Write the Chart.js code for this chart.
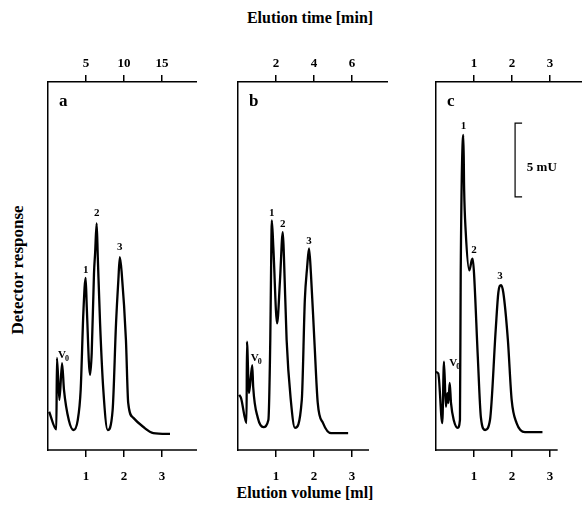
<!DOCTYPE html>
<html>
<head>
<meta charset="utf-8">
<script src="https://cdn.jsdelivr.net/npm/chart.js@4.4.0/dist/chart.umd.min.js"></script>
<style>
body { margin: 0; background: #fff; }
#wrap { position: relative; width: 582px; height: 509px; overflow: hidden; font-family: "Liberation Serif", serif; font-weight: bold; color: #000; }
#wrap canvas { position: absolute; }
.t { position: absolute; white-space: nowrap; font-size: 16px; }
</style>
</head>
<body>
<div id="wrap">
  <div class="t" style="left:0; width:620px; text-align:center; top:9px;">Elution time [min]</div>
  <div class="t" style="left:0; width:610px; text-align:center; top:484px;">Elution volume [ml]</div>
  <div class="t" style="left:18px; top:270px; font-size:17px; transform:translate(-50%,-50%) rotate(-90deg);">Detector response</div>
  <canvas id="chartA" width="153" height="432" style="left:44px; top:50px;"></canvas>
  <canvas id="chartB" width="154" height="432" style="left:234px; top:50px;"></canvas>
  <canvas id="chartC" width="150" height="432" style="left:432px; top:50px;"></canvas>
</div>
<script>
// elution volume [ml] and detector response [mU]
const volA  = [0.03, 0.22, 0.235, 0.30, 0.37, 0.42, 0.55, 0.67, 0.78, 0.86, 0.93, 0.99, 1.02, 1.105, 1.15, 1.21, 1.24, 1.28, 1.31, 1.37, 1.455, 1.57, 1.70, 1.79, 1.85, 1.89, 1.94, 2.05, 2.11, 2.24, 2.51, 2.77, 3.21];
const respA = [2.6, 1.4, 6.25, 3.4, 5.9, 4.1, 2.0, 1.36, 2.0, 4.1, 9.3, 11.7, 9.7, 5.1, 6.6, 12.0, 13.4, 15.4, 13.1, 8.6, 4.1, 1.36, 2.7, 8.6, 11.5, 13.1, 12.0, 7.5, 3.2, 2.2, 1.56, 1.15, 1.09];

const volB  = [0.03, 0.08, 0.225, 0.235, 0.29, 0.375, 0.40, 0.52, 0.67, 0.80, 0.85, 0.87, 0.89, 0.93, 1.03, 1.105, 1.18, 1.21, 1.28, 1.39, 1.50, 1.68, 1.76, 1.82, 1.87, 1.92, 2.01, 2.10, 2.24, 2.45, 2.90];
const respB = [3.74, 3.53, 1.83, 7.36, 3.87, 5.77, 4.28, 2.2, 1.56, 2.04, 7.47, 12.0, 15.6, 13.8, 8.6, 11.5, 14.8, 13.1, 7.5, 3.4, 1.5, 3.4, 10.2, 12.4, 13.7, 12.0, 7.5, 3.2, 1.83, 1.15, 1.15];

const volC  = [0.0, 0.06, 0.165, 0.21, 0.26, 0.30, 0.325, 0.36, 0.395, 0.47, 0.57, 0.63, 0.65, 0.72, 0.74, 0.78, 0.875, 0.94, 0.965, 1.0, 1.10, 1.18, 1.29, 1.42, 1.57, 1.64, 1.71, 1.77, 1.89, 1.99, 2.12, 2.34, 2.80];
const respC = [5.3, 5.2, 1.83, 6.0, 2.94, 3.87, 3.19, 4.55, 3.19, 2.0, 1.5, 2.04, 12.0, 21.4, 17.7, 14.9, 12.2, 12.9, 13.0, 12.0, 6.3, 2.24, 1.36, 2.04, 8.15, 10.7, 11.2, 10.7, 7.5, 3.4, 1.83, 1.22, 1.22];

// axis ticks
const volTicks = [1, 2, 3];
const timeTicksA = [5, 10, 15];
const timeTicksB = [2, 4, 6];
const timeTicksC = [1, 2, 3];

// peak labels: text, volume, response
const peakTextA = ['V0', '1', '2', '3'];
const peakVolA  = [0.37, 0.99, 1.28, 1.89];
const peakRespA = [6.45, 12.2, 16.1, 13.8];
const peakTextB = ['V0', '1', '2', '3'];
const peakVolB  = [0.44, 0.89, 1.18, 1.87];
const peakRespB = [6.25, 16.1, 15.35, 14.2];
const peakTextC = ['V0', '1', '2', '3'];
const peakVolC  = [0.455, 0.72, 1.0, 1.68];
const peakRespC = [5.9, 22.0, 13.6, 11.8];

const FONT = '"Liberation Serif", serif';

const extras = {
    id: 'extras',
    afterDraw(chart, args, o) {
        const ctx = chart.ctx, x = chart.scales.x, y = chart.scales.y, a = chart.chartArea;
        ctx.save();
        ctx.strokeStyle = '#000';
        ctx.fillStyle = '#000';
        ctx.lineWidth = 1.5;
        ctx.beginPath();
        ctx.moveTo(a.left - 0.75, a.bottom);
        ctx.lineTo(x.getPixelForValue(o.bottomEnd), a.bottom);
        ctx.stroke();

        ctx.font = 'bold 17px ' + FONT;
        ctx.textAlign = 'left';
        ctx.textBaseline = 'middle';
        ctx.fillText(o.letter, a.left + 11, a.top + 20);

        ctx.textAlign = 'center';
        o.text.forEach((t, i) => {
            const px = x.getPixelForValue(o.vol[i]), py = y.getPixelForValue(o.resp[i]);
            if (t === 'V0') {
                ctx.font = 'bold 11px ' + FONT;
                ctx.fillText('V', px, py);
                ctx.font = 'bold 8px ' + FONT;
                ctx.fillText('0', px + 5, py + 4);
            } else {
                ctx.font = 'bold 11px ' + FONT;
                ctx.fillText(t, px, py);
            }
        });

        if (o.bar) {
            const bx = x.getPixelForValue(o.bar.vol);
            const b0 = y.getPixelForValue(o.bar.from), b1 = y.getPixelForValue(o.bar.from + o.bar.size);
            ctx.lineWidth = 1.2;
            ctx.beginPath();
            ctx.moveTo(bx + 7, b1); ctx.lineTo(bx, b1); ctx.lineTo(bx, b0); ctx.lineTo(bx + 7, b0);
            ctx.stroke();
            ctx.font = 'bold 13px ' + FONT;
            ctx.textAlign = 'left';
            ctx.fillText(o.bar.size + ' mU', x.getPixelForValue(o.bar.textVol), y.getPixelForValue(o.bar.textResp));
        }
        ctx.restore();
    }
};

function makePanel(id, vol, resp, volMax, bottomEnd, minPerMl, timeTicks, letter, text, pVol, pResp, bar) {
    const tickFont = { family: FONT, size: 13, weight: 'bold' };
    new Chart(document.getElementById(id), {
        type: 'line',
        data: {
            datasets: [{
                data: vol.map((v, i) => ({ x: v, y: resp[i] })),
                borderColor: '#000',
                borderWidth: 2.3,
                pointRadius: 0,
                cubicInterpolationMode: 'monotone',
                fill: false
            }]
        },
        options: {
            responsive: false,
            animation: false,
            events: [],
            layout: { padding: { left: 4, right: 0, top: 0, bottom: 0 } },
            plugins: {
                legend: { display: false },
                tooltip: { enabled: false },
                extras: { bottomEnd, letter, text, vol: pVol, resp: pResp, bar }
            },
            scales: {
                x: {
                    type: 'linear', position: 'bottom', min: 0, max: volMax,
                    afterBuildTicks: s => { s.ticks = volTicks.map(v => ({ value: v })); },
                    afterFit: s => { s.height = 32; },
                    border: { display: false },
                    grid: { drawOnChartArea: false, color: '#000', lineWidth: 1.5, tickLength: 7 },
                    ticks: { color: '#000', font: tickFont, padding: 12, maxRotation: 0 }
                },
                x2: {
                    type: 'linear', position: 'top', min: 0, max: volMax * minPerMl,
                    afterBuildTicks: s => { s.ticks = timeTicks.map(v => ({ value: v })); },
                    afterFit: s => { s.height = 32; },
                    border: { display: true, color: '#000', width: 1.5 },
                    grid: { drawOnChartArea: false, color: '#000', lineWidth: 1.5, tickLength: 7 },
                    ticks: { color: '#000', font: tickFont, padding: 4, maxRotation: 0 }
                },
                y: {
                    type: 'linear', min: 0, max: 25,
                    afterFit: s => { s.width = 0; },
                    border: { display: true, color: '#000', width: 1.5 },
                    grid: { display: false },
                    ticks: { display: false }
                }
            }
        },
        plugins: [extras]
    });
}

makePanel('chartA', volA, respA, 3.92, 3.92, 5, timeTicksA, 'a', peakTextA, peakVolA, peakRespA, null);
makePanel('chartB', volB, respB, 3.95, 3.45, 2, timeTicksB, 'b', peakTextB, peakVolB, peakRespB, null);
makePanel('chartC', volC, respC, 3.84, 3.2, 1, timeTicksC, 'c', peakTextC, peakVolC, peakRespC,
    { vol: 2.08, from: 17.2, size: 5, textVol: 2.39, textResp: 19.2 });
</script>
</body>
</html>
